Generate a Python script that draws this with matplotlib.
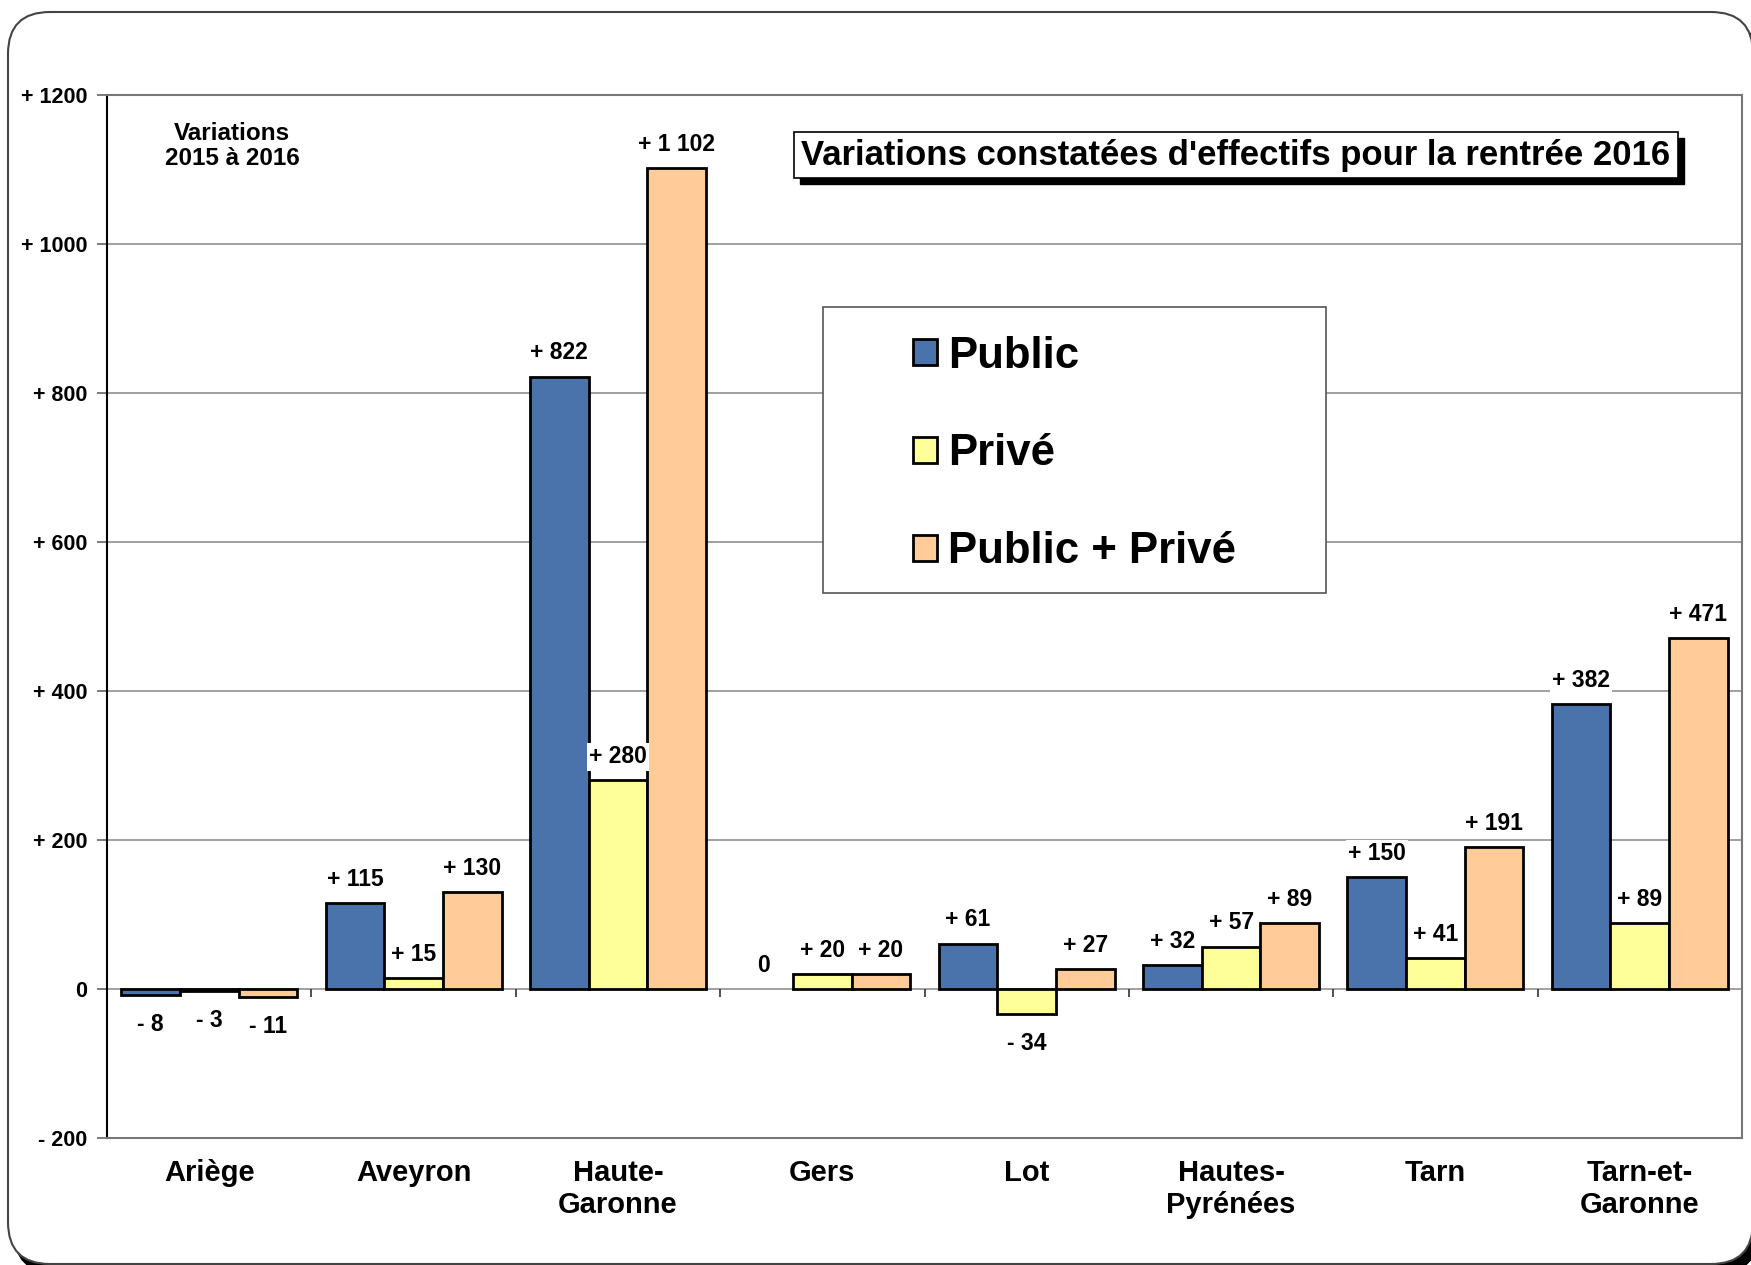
import numpy as np
import matplotlib
matplotlib.use("Agg")
import matplotlib.pyplot as plt
from matplotlib.patches import Rectangle, FancyBboxPatch
import matplotlib.transforms as mtransforms

categories = ["Ariège", "Aveyron", "Haute-\nGaronne", "Gers", "Lot",
              "Hautes-\nPyrénées", "Tarn", "Tarn-et-\nGaronne"]
public = [-8, 115, 822, 0, 61, 32, 150, 382]
prive = [-3, 15, 280, 20, -34, 57, 41, 89]
total = [-11, 130, 1102, 20, 27, 89, 191, 471]
series_names = ["Public", "Privé", "Public + Privé"]
series_colors = ["#4A72AB", "#FFFF99", "#FFCC99"]
yticks = [-200, 0, 200, 400, 600, 800, 1000, 1200]
title_text = "Variations constatées d'effectifs pour la rentrée 2016"
note_text = "Variations\n2015 à 2016"

plt.rcParams['font.family'] = ['Liberation Sans', 'DejaVu Sans']
plt.rcParams['font.weight'] = 'bold'

W, H = 1751, 1265
fig = plt.figure(figsize=(W / 100, H / 100), dpi=100)
fig.patch.set_facecolor("white")

# rounded outer frame with shadow (pixel coordinates)
ident = mtransforms.IdentityTransform()
shadow = FancyBboxPatch((14, -8), 1745, 1252, boxstyle="round,pad=0,rounding_size=42",
                        transform=ident, facecolor="black", edgecolor="black", zorder=-10)
frame = FancyBboxPatch((8, 1), 1745, 1252, boxstyle="round,pad=0,rounding_size=42",
                       transform=ident, facecolor="white", edgecolor="#444444",
                       linewidth=1.5, zorder=-9)
fig.patches.extend([shadow, frame])

ax = fig.add_axes([107 / W, 127 / H, 1635 / W, 1043 / H])
ax.set_facecolor("none")

n = len(categories)
x = np.arange(n)
w = 0.287
all_series = [public, prive, total]
for k, (vals, col, name) in enumerate(zip(all_series, series_colors, series_names)):
    bars = ax.bar(x + (k - 1) * w, vals, width=w, color=col, edgecolor="black",
                  linewidth=2, label=name, zorder=3)
    for p, v in zip(bars.patches, vals):
        if v == 0:
            p.set_visible(False)
    for xi, v in zip(x + (k - 1) * w, vals):
        if v > 0:
            s = "+ " + format(v, ",").replace(",", " ")
            off = 17
        elif v < 0:
            s = "- " + format(-v, ",").replace(",", " ")
            off = -21
        else:
            s = "0"
            off = 17
        ax.annotate(s, (xi, v), xytext=(0, off), textcoords="offset points",
                    ha="center", va="center", fontsize=16.5, fontweight="bold",
                    zorder=5,
                    bbox=dict(boxstyle="square,pad=0.1", facecolor="white",
                              edgecolor="none"))

ax.set_xlim(-0.5, n - 0.5)
ax.set_ylim(-200, 1200)
ax.set_yticks(yticks)
ax.set_yticklabels([("+ %d" % t) if t > 0 else ("- %d" % -t if t < 0 else "0")
                    for t in yticks], fontsize=15.5, fontweight="bold")
ax.tick_params(axis="y", length=7, width=1.2, color="#666666", pad=7)
ax.set_xticks(x)
ax.set_xticklabels(categories, fontsize=21, fontweight="bold", linespacing=1.2)
ax.tick_params(axis="x", length=0, pad=15)

ax.yaxis.grid(True, color="#999999", linewidth=1.3, zorder=0)
ax.set_axisbelow(True)
for sp in ["top", "right", "bottom"]:
    ax.spines[sp].set_color("#777777")
    ax.spines[sp].set_linewidth(1.5)
ax.spines["left"].set_color("black")
ax.spines["left"].set_linewidth(1.5)

# small category separators on the zero line
ax.vlines(x[1:] - 0.5, -11, 0, colors="#333333", linewidth=1.2, zorder=2)

# note top-left
ax.text(232 / W, 1 - 146 / H, note_text, transform=fig.transFigure, ha="center",
        va="center", fontsize=17.5, fontweight="bold", linespacing=1.15)

# title with shadow
tx, ty = 1236 / W, 1 - 155 / H
title = fig.text(tx, ty, title_text, ha="center", va="center",
                 fontsize=25, fontweight="bold", color="black", zorder=6,
                 bbox=dict(boxstyle="square,pad=0.2", facecolor="white", edgecolor="black",
                           linewidth=1.2))
fig.canvas.draw()
bb = title.get_bbox_patch().get_window_extent()
fig.patches.append(Rectangle((bb.x0 + 6, bb.y0 - 6), bb.width, bb.height,
                             transform=ident, facecolor="black", edgecolor="black",
                             zorder=5))

# legend box
lx0, ly0, lx1, ly1 = 823, 307, 1326, 593
fig.patches.append(Rectangle((lx0 / W, 1 - ly1 / H), (lx1 - lx0) / W, (ly1 - ly0) / H,
                             transform=fig.transFigure, facecolor="white",
                             edgecolor="#555555", linewidth=1.2, zorder=4))
leg = fig.legend(loc="center", bbox_to_anchor=((lx0 + lx1) / 2 / W, 1 - ((ly0 + ly1) / 2 + 4) / H),
                 frameon=False, prop=dict(weight="bold", size=31.5),
                 handlelength=0.55, handleheight=0.55, handletextpad=0.25,
                 labelspacing=1.3)
leg.set_zorder(6)

fig.savefig("out.png", dpi=100, facecolor="white")
